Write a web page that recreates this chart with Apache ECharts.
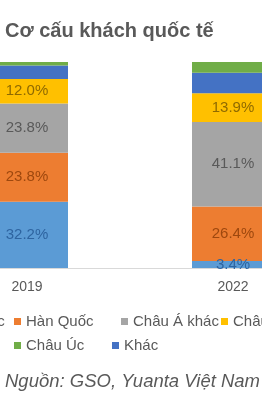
<!DOCTYPE html>
<html><head><meta charset="utf-8">
<script src="https://cdn.jsdelivr.net/npm/echarts@6/dist/echarts.min.js"></script>
<style>html,body{margin:0;padding:0;background:#fff;overflow:hidden;width:262px;height:400px}
#c{position:absolute;left:-120px;top:0;width:500px;height:400px}</style>
</head><body><div id="c"></div>
<script>
var categories = ['2019', '2022'];
var trungQuoc = [32.2, 3.4];
var hanQuoc = [23.8, 26.4];
var chauAKhac = [23.8, 41.1];
var chauAu = [12.0, 13.9];
var khac = [6.5, 10.0];
var chauUc = [1.7, 5.2];
var seriesNames = ['Trung Quốc', 'Hàn Quốc', 'Châu Á khác', 'Châu Âu', 'Khác', 'Châu Úc'];
var seriesData = [trungQuoc, hanQuoc, chauAKhac, chauAu, khac, chauUc];
var colors = ['#5B9BD5', '#ED7D31', '#A5A5A5', '#FFC000', '#4472C4', '#70AD47'];
var labelColors = ['#2E64A0', '#9E480E', '#595959', '#8F6A00', null, null];

var font = '"Liberation Sans", Arial, sans-serif';
var txt = '#595959';
var OFF = 120;

var series = seriesData.map(function (d, i) {
  return {
    name: seriesNames[i], type: 'bar', stack: 'all', data: d, barWidth: 82,
    itemStyle: {color: colors[i]},
    label: {show: labelColors[i] !== null, position: 'inside', fontFamily: font, fontSize: 15,
      color: labelColors[i] || '#000', formatter: function (p) { return p.value.toFixed(1) + '%'; }}
  };
});

function lg(name, x, y) {
  return {data: [name], left: OFF + x, top: y, padding: 0, itemWidth: 7, itemHeight: 7, icon: 'rect',
    textStyle: {fontFamily: font, fontSize: 15, color: txt}};
}

var chart = echarts.init(document.getElementById('c'), null, {renderer: 'canvas'});
chart.setOption({
  animation: false,
  title: [
    {text: 'Cơ cấu khách quốc tế', left: OFF + 5, top: 21, padding: 0,
      textStyle: {fontFamily: font, fontSize: 20, fontWeight: 'bold', color: txt}},
    {text: 'Nguồn: GSO, Yuanta Việt Nam', left: OFF + 5, top: 372, padding: 0,
      textStyle: {fontFamily: font, fontSize: 18.5, fontWeight: 'normal', fontStyle: 'italic', color: txt}}
  ],
  legend: [
    lg('Trung Quốc', -86, 314), lg('Hàn Quốc', 14, 314), lg('Châu Á khác', 121, 314), lg('Châu Âu', 221, 314),
    lg('Châu Úc', 14, 338), lg('Khác', 112, 338)
  ],
  grid: {left: 44, right: 44, top: 62, bottom: 132, containLabel: false},
  xAxis: {type: 'category', data: categories,
    axisLine: {show: true, lineStyle: {color: '#D9D9D9', width: 1}}, axisTick: {show: false},
    axisLabel: {fontFamily: font, fontSize: 14, color: txt, margin: 12}},
  yAxis: {type: 'value', min: 0, max: 100, show: false, splitLine: {show: false}},
  series: series
});
</script></body></html>
